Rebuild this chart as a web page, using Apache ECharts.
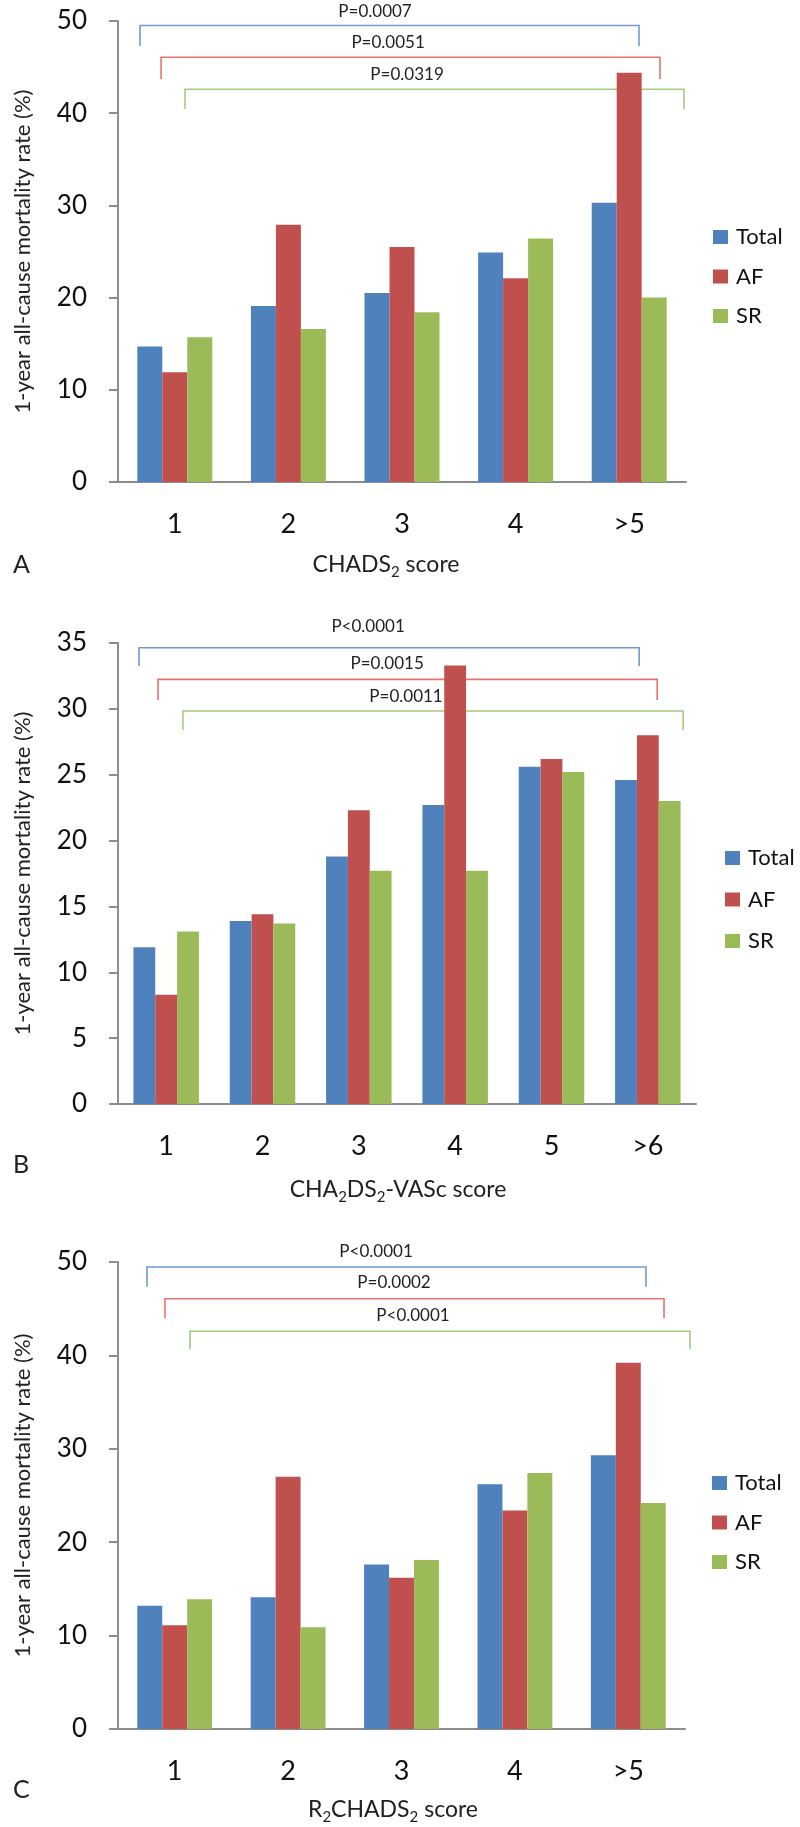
<!DOCTYPE html>
<html><head><meta charset="utf-8">
<script src="https://cdn.jsdelivr.net/npm/echarts@6/dist/echarts.min.js"></script>
<style>html,body{margin:0;padding:0;background:#fff}#c{width:800px;height:1827px}</style>
</head><body><div id="c"></div>
<script>
// ---------- DATA ----------
const seriesNames = ['Total', 'AF', 'SR'];

const catsA = ['1', '2', '3', '4', '>5'];
const totalA = [14.7, 19.1, 20.5, 24.9, 30.3];
const afA    = [11.9, 27.9, 25.5, 22.1, 44.4];
const srA    = [15.7, 16.6, 18.4, 26.4, 20.0];
const pA     = ['P=0.0007', 'P=0.0051', 'P=0.0319'];
const ticksA = { min: 0, max: 50, interval: 10 };

const catsB = ['1', '2', '3', '4', '5', '>6'];
const totalB = [11.9, 13.9, 18.8, 22.7, 25.6, 24.6];
const afB    = [8.3, 14.4, 22.3, 33.3, 26.2, 28.0];
const srB    = [13.1, 13.7, 17.7, 17.7, 25.2, 23.0];
const pB     = ['P<0.0001', 'P=0.0015', 'P=0.0011'];
const ticksB = { min: 0, max: 35, interval: 5 };

const catsC = ['1', '2', '3', '4', '>5'];
const totalC = [13.2, 14.1, 17.6, 26.2, 29.3];
const afC    = [11.1, 27.0, 16.2, 23.4, 39.2];
const srC    = [13.9, 10.9, 18.1, 27.4, 24.2];
const pC     = ['P<0.0001', 'P=0.0002', 'P<0.0001'];
const ticksC = { min: 0, max: 50, interval: 10 };

const yName = '1-year all-cause mortality rate (%)';

// ---------- STYLE / LAYOUT ----------
const colors = ['#4F81BD', '#C0504D', '#9BBB59'];
const bracketColors = ['#6f9ad3', '#e8736e', '#a3cc80'];
const FONT = 'Lato';
const axisGrey = '#8c8c8c';

const panels = [
  { cats: catsA, vals: [totalA, afA, srA], p: pA, ticks: ticksA,
    grid: { left: 118, right: 114, top: 21, height: 461 }, gap: '34%',
    legend: { left: 708, top: 221, itemGap: 17.5 },
    br: [ { l: -0.306, r: 0.086, t: 0.471, line: 4.5, bot: 25, txt: -9 },
          { l: -0.121, r: 0.271, t: 0.455, line: 36.3, bot: 58, txt: 21.3 },
          { l: 0.090,  r: 0.482, t: 0.445, line: 68.3, bot: 88, txt: 53.3 } ] },
  { cats: catsB, vals: [totalB, afB, srB], p: pB, ticks: ticksB,
    grid: { left: 118, right: 104, top: 643, height: 461 }, gap: '32%',
    legend: { left: 720, top: 842, itemGap: 19.5 },
    br: [ { l: -0.282, r: -0.090, t: 0.458, line: 4.8, bot: 23, txt: -16.6 },
          { l: -0.085, r: 0.097,  t: 0.459, line: 36.4, bot: 57, txt: 21 },
          { l: 0.174,  r: 0.367,  t: 0.446, line: 68, bot: 87, txt: 53.4 } ] },
  { cats: catsC, vals: [totalC, afC, srC], p: pC, ticks: ticksC,
    grid: { left: 118, right: 115, top: 1262, height: 467 }, gap: '34%',
    legend: { left: 707, top: 1467, itemGap: 17.5 },
    br: [ { l: -0.244, r: 0.156, t: 0.459, line: 5, bot: 24.8, txt: -10.7 },
          { l: -0.086, r: 0.315, t: 0.459, line: 36.7, bot: 56.3, txt: 20.3 },
          { l: 0.135,  r: 0.544, t: 0.446, line: 69.3, bot: 87.3, txt: 53.3 } ] }
];

const titles = [
  { x: 386, y: 565, text: '{a|CHADS}{s|2}{a| score}' },
  { x: 398, y: 1190, text: '{a|CHA}{s|2}{a|DS}{s|2}{a|-VASc score}' },
  { x: 393, y: 1810, text: '{a|R}{s|2}{a|CHADS}{s|2}{a| score}' }
];
const letters = [ { x: 13, y: 565, t: 'A' }, { x: 13, y: 1165, t: 'B' }, { x: 13, y: 1790, t: 'C' } ];

// ---------- BUILD ----------
const option = {
  animation: false,
  backgroundColor: '#fff',
  textStyle: { fontFamily: FONT },
  grid: [], xAxis: [], yAxis: [], legend: [], series: [], graphic: []
};

panels.forEach((P, k) => {
  option.grid.push(Object.assign({ containLabel: false }, P.grid));
  option.xAxis.push({
    type: 'category', gridIndex: k, data: P.cats,
    axisLine: { lineStyle: { color: axisGrey, width: 2 } },
    axisTick: { show: false },
    axisLabel: { fontSize: 27, color: '#111', margin: 29, fontFamily: FONT }
  });
  option.yAxis.push({
    type: 'value', gridIndex: k, min: P.ticks.min, max: P.ticks.max, interval: P.ticks.interval,
    name: yName, nameLocation: 'middle', nameGap: 84,
    nameTextStyle: { fontSize: 22, color: '#222', fontFamily: FONT },
    axisLine: { show: true, lineStyle: { color: axisGrey, width: 2 } },
    axisTick: { show: true, length: 9, lineStyle: { color: axisGrey, width: 2 } },
    splitLine: { show: false },
    axisLabel: { fontSize: 26, color: '#111', margin: 31, fontFamily: FONT }
  });
  option.legend.push({
    orient: 'vertical', left: P.legend.left, top: P.legend.top, itemGap: P.legend.itemGap,
    itemWidth: 15, itemHeight: 14, icon: 'rect', data: seriesNames,
    textStyle: { fontSize: 22, color: '#111', fontFamily: FONT, lineHeight: 22, padding: [0, 0, 0, 3] }
  });
  seriesNames.forEach((n, s) => {
    option.series.push({
      type: 'bar', name: n, xAxisIndex: k, yAxisIndex: k, data: P.vals[s],
      itemStyle: { color: colors[s] }, barGap: '0%', barCategoryGap: P.gap, z: 2
    });
  });
  const nC = P.cats.length;
  option.series.push({
    type: 'custom', xAxisIndex: k, yAxisIndex: k, z: 1, silent: true, clip: false,
    data: P.p.map((lab, i) => [0, nC - 1, i]),
    encode: { x: [0, 1], y: 2 },
    renderItem: function (params, api) {
      const i = api.value(2);
      const L = P.br[i];
      const cs = params.coordSys;
      const w = api.size([1, 0])[0];
      const xl = api.coord([api.value(0), 0])[0] + L.l * w;
      const xr = api.coord([api.value(1), 0])[0] + L.r * w;
      const yl = cs.y + L.line, yb = cs.y + L.bot, yt = cs.y + L.txt;
      const xt = xl + L.t * (xr - xl);
      return {
        type: 'group', children: [
          { type: 'polyline', shape: { points: [[xl, yb], [xl, yl], [xr, yl], [xr, yb]] },
            style: { stroke: bracketColors[i], lineWidth: 1.6, fill: null } },
          { type: 'text', x: xt, y: yt,
            style: { text: P.p[i], fill: '#222', fontSize: 17, fontFamily: FONT,
                     align: 'center', verticalAlign: 'middle', textAlign: 'center', textVerticalAlign: 'middle' } }
        ]
      };
    }
  });
});

titles.forEach(T => {
  option.graphic.push({
    type: 'text', x: T.x, y: T.y,
    style: {
      text: T.text, align: 'center', verticalAlign: 'middle', fill: '#222',
      rich: {
        a: { fontSize: 23, fontFamily: FONT, fill: '#222', lineHeight: 28 },
        s: { fontSize: 15, fontFamily: FONT, fill: '#222', padding: [14, 0, 0, 0] }
      }
    }
  });
});
letters.forEach(L => {
  option.graphic.push({
    type: 'text', x: L.x, y: L.y,
    style: { text: L.t, fontSize: 25, fontFamily: FONT, fill: '#222', align: 'left', verticalAlign: 'middle' }
  });
});

const chart = echarts.init(document.getElementById('c'), null, { renderer: 'canvas' });
chart.setOption(option);
</script>
</body></html>
